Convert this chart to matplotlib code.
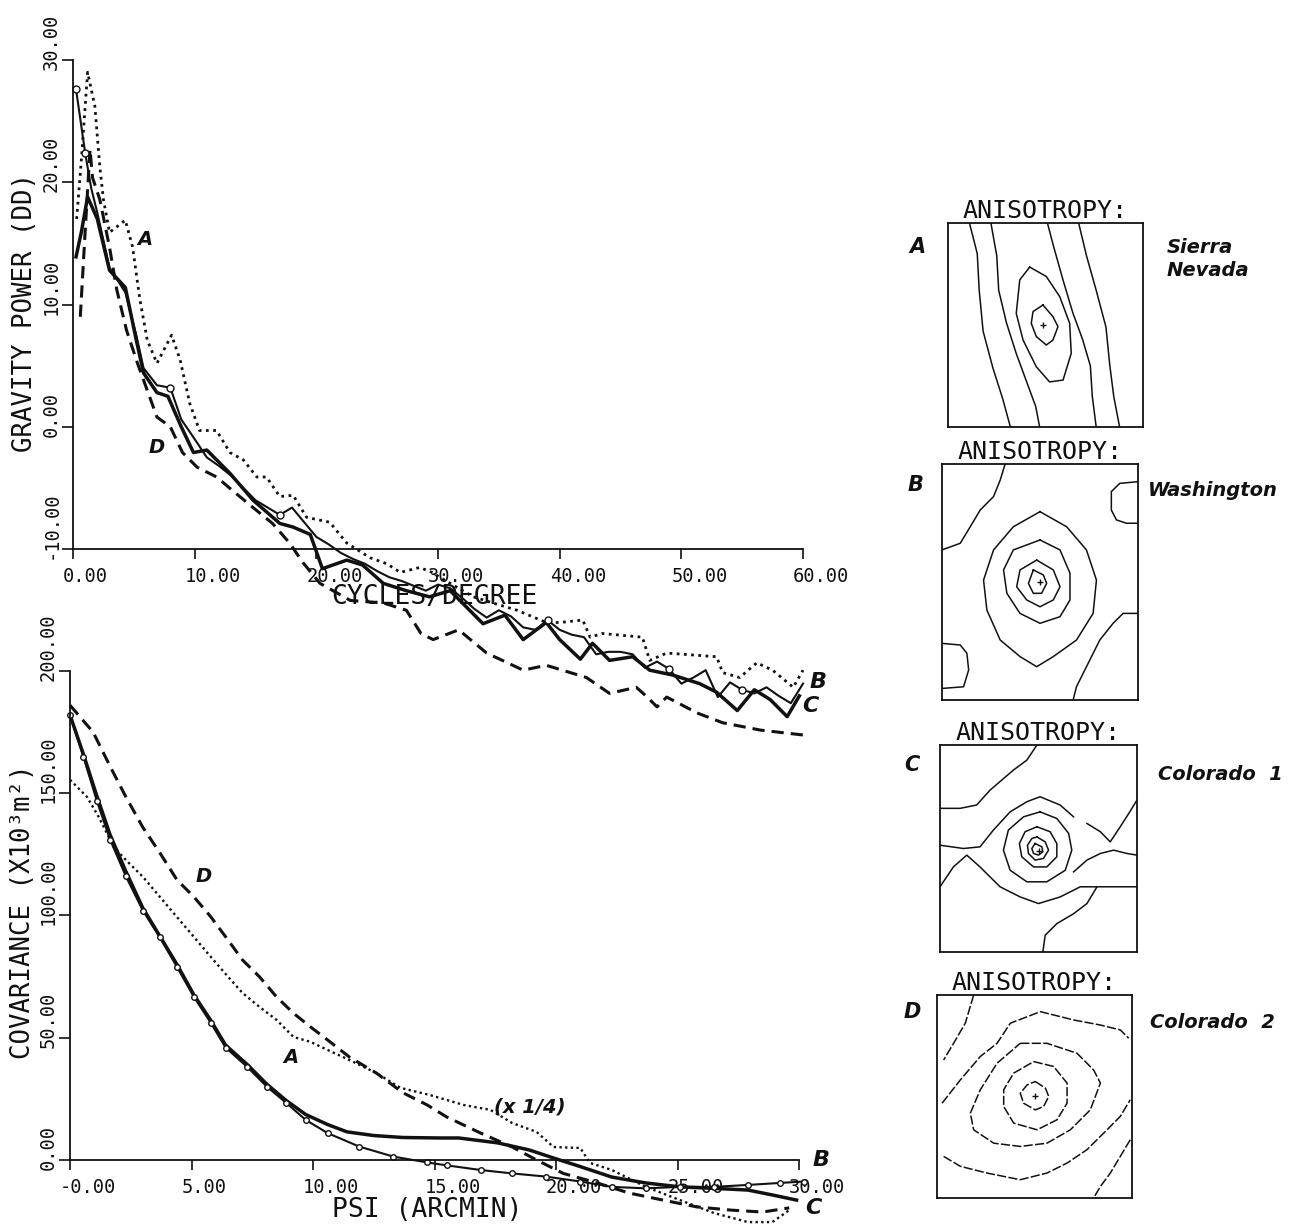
import matplotlib
matplotlib.use('Agg')
import matplotlib.pyplot as plt
from matplotlib.transforms import ScaledTranslation
import numpy as np

# ---------------- data: gravity power spectra (top) ----------------
A_top_x = [0.3, 0.7, 1.2, 1.8, 2.2, 2.5, 3.0, 4.3, 4.9, 5.5, 6.1, 6.9, 8.1, 8.8, 9.6, 10.4, 11.8,
           12.9, 14.0, 15.1, 15.9, 17.0, 18.1, 19.2, 21.1, 22.5, 24.4, 25.8, 26.9, 28.5, 29.5, 31.0,
           32.9, 34.5, 36.5, 38.9, 40.0, 41.9, 42.5, 43.5, 46.8, 47.4, 48.8, 52.9, 53.4, 54.8, 56.2,
           57.5, 59.2, 60.0]
A_top_y = [17.0, 22.0, 29.0, 26.2, 21.3, 18.6, 15.9, 16.9, 14.7, 10.4, 7.1, 5.2, 7.5, 5.5, 1.9, -0.3,
           -0.3, -2.1, -2.7, -4.1, -4.1, -5.7, -5.6, -7.4, -7.8, -9.5, -10.7, -11.2, -11.9, -11.5,
           -11.9, -12.8, -13.9, -14.4, -15.0, -16.0, -16.0, -15.8, -17.2, -16.9, -17.2, -19.1, -18.5,
           -18.8, -20.1, -20.5, -19.3, -19.9, -21.3, -19.9]

B_top_x = [0.25, 1.0, 1.5, 2.0, 3.0, 4.3, 5.2, 5.8, 6.9, 8.0, 8.9, 10.0, 11.0, 12.0, 13.0, 14.0,
           15.0, 16.0, 17.0, 18.0, 19.0, 20.0, 21.0, 22.0, 23.0, 24.0, 25.0, 26.0, 27.0, 28.0, 29.0,
           30.0, 31.0, 32.0, 33.0, 34.0, 35.0, 36.0, 37.0, 38.0, 39.0, 40.0, 41.0, 42.0, 43.0, 44.0,
           45.0, 46.0, 47.0, 48.0, 49.0, 50.0, 51.0, 52.0, 53.0, 54.0, 55.0, 56.0, 57.0, 58.0, 59.0,
           60.0]
B_top_y = [27.6, 22.4, 19.5, 17.5, 13.0, 11.0, 7.5, 4.8, 3.4, 3.2, 0.6, -1.0, -2.5, -3.2, -4.0, -5.0,
           -6.0, -6.6, -7.2, -6.6, -7.8, -9.0, -9.6, -10.3, -10.8, -11.2, -11.8, -12.3, -12.6, -13.0,
           -13.4, -12.9, -13.2, -14.0, -14.9, -15.6, -15.0, -15.5, -16.4, -16.6, -15.8, -16.6, -17.0,
           -17.2, -18.6, -18.4, -18.4, -18.6, -19.7, -19.2, -19.8, -21.0, -20.5, -19.9, -22.1, -20.9,
           -21.5, -21.8, -21.3, -22.0, -22.6, -21.0]

C_top_x = [0.25, 0.7, 1.2, 2.0, 3.0, 4.3, 5.2, 5.8, 6.9, 7.8, 8.9, 9.9, 11.0, 12.9, 14.8, 17.0, 18.1,
           19.5, 20.5, 22.5, 23.8, 25.5, 27.4, 29.3, 31.0, 33.7, 35.5, 37.0, 38.9, 40.0, 41.7, 42.7,
           44.1, 46.0, 47.4, 49.3, 51.5, 52.9, 54.6, 56.0, 57.3, 58.7, 59.7]
C_top_y = [13.9, 16.0, 18.8, 17.0, 12.8, 11.4, 7.1, 4.4, 2.8, 2.5, 0.0, -2.1, -1.9, -3.8, -6.0, -7.9,
           -8.2, -8.8, -11.6, -10.9, -11.3, -12.8, -13.4, -13.9, -13.4, -16.1, -15.4, -17.4, -16.0,
           -17.4, -19.0, -17.7, -19.1, -18.8, -19.9, -20.3, -21.0, -21.7, -23.2, -21.5, -22.3, -23.7,
           -22.0]

D_top_x = [0.6, 1.0, 1.4, 1.6, 2.2, 3.0, 3.6, 4.4, 5.3, 6.1, 6.9, 8.0, 9.0, 10.2, 11.8, 13.1, 14.8,
           16.4, 17.8, 18.9, 20.3, 22.8, 25.5, 27.4, 28.6, 29.6, 31.7, 34.0, 37.0, 38.9, 42.2, 44.1,
           46.3, 47.2, 48.0, 48.8, 51.3, 53.4, 56.5, 60.0]
D_top_y = [9.0, 16.0, 22.7, 20.4, 18.6, 14.7, 11.2, 7.9, 5.2, 3.0, 0.8, 0.0, -2.1, -3.3, -4.1, -5.2,
           -6.6, -7.9, -9.5, -11.1, -12.8, -14.2, -14.4, -15.0, -16.9, -17.4, -16.6, -18.5, -19.9,
           -19.5, -20.5, -21.8, -21.3, -22.1, -22.9, -22.1, -23.4, -24.2, -24.8, -25.2]

# ---------------- data: covariance functions (bottom) ----------------
A_low_x = [0.0, 0.7, 1.2, 1.8, 2.3, 3.0, 3.7, 4.4, 5.1, 5.8, 6.5, 7.1, 7.8, 8.5, 9.2, 9.9, 10.6,
           11.5, 12.6, 13.6, 14.8, 16.2, 17.3, 18.2, 19.2, 19.9, 21.0, 21.4, 22.3, 23.7, 25.1, 26.5,
           27.9, 28.9, 29.6]
A_low_y = [155.5, 148.5, 140.0, 128.0, 122.7, 115.8, 107.6, 99.4, 91.2, 83.0, 75.0, 68.3, 62.6,
           57.3, 50.3, 48.3, 45.0, 40.9, 35.6, 29.5, 26.6, 22.5, 20.5, 15.1, 11.5, 5.3, 4.9, -1.2,
           -4.1, -11.0, -16.4, -21.7, -25.4, -25.4, -20.5]

B_low_x = [0.0, 0.55, 1.1, 1.65, 2.3, 3.0, 3.7, 4.4, 5.1, 5.8, 6.4, 7.3, 8.1, 8.9, 9.7, 10.6, 11.9,
           13.3, 14.7, 15.5, 16.9, 18.2, 19.6, 21.0, 22.3, 23.7, 25.1, 26.5, 27.9, 29.2, 30.2]
B_low_y = [182.0, 165.0, 147.0, 131.0, 116.0, 102.0, 91.0, 79.0, 66.7, 56.0, 46.0, 38.0, 30.0, 23.3,
           16.4, 11.0, 5.5, 1.4, -1.0, -2.2, -4.1, -5.5, -6.8, -8.8, -11.0, -11.6, -11.0, -11.0,
           -10.2, -9.4, -8.8]

C_low_x = [0.0, 0.55, 1.1, 1.65, 2.3, 3.0, 3.7, 4.4, 5.1, 5.8, 6.4, 7.3, 8.1, 8.9, 9.7, 10.6, 11.4,
           12.5, 13.7, 15.2, 16.0, 17.6, 18.9, 19.9, 21.0, 22.3, 23.7, 25.1, 26.5, 27.9, 28.9, 29.9]
C_low_y = [182.0, 166.0, 149.0, 133.0, 118.0, 103.0, 91.5, 80.0, 67.5, 57.0, 47.0, 39.0, 31.0, 24.3,
           18.6, 14.5, 11.5, 10.0, 9.2, 9.0, 9.0, 7.0, 4.1, 0.8, -2.7, -7.0, -9.4, -11.0, -11.6,
           -12.3, -14.3, -16.4]

D_low_x = [0.0, 0.95, 1.65, 2.3, 3.0, 3.7, 4.4, 5.1, 5.8, 6.5, 7.1, 7.8, 8.5, 9.2, 9.9, 10.6, 11.5,
           12.6, 13.7, 14.7, 15.5, 16.9, 18.2, 19.2, 20.3, 21.7, 23.0, 24.4, 25.8, 27.2, 28.5, 29.6]
D_low_y = [186.0, 175.0, 161.0, 148.5, 136.0, 125.6, 114.6, 107.6, 99.4, 90.0, 81.8, 74.9, 66.7,
           60.0, 54.4, 49.1, 42.1, 35.6, 27.5, 22.5, 17.6, 11.0, 5.3, 0.0, -5.5, -9.4, -13.5, -16.4,
           -19.2, -20.5, -21.3, -19.6]

# tick values / labels
top_xticks = [0, 10, 20, 30, 40, 50, 60]
top_xticklabels = ['0.00', '10.00', '20.00', '30.00', '40.00', '50.00', '60.00']
top_yticks = [-10, 0, 10, 20, 30]
top_yticklabels = ['-10.00', '0.00', '10.00', '20.00', '30.00']
low_xticks = [0, 5, 10, 15, 20, 25, 30]
low_xticklabels = ['-0.00', '5.00', '10.00', '15.00', '20.00', '25.00', '30.00']
low_yticks = [0, 50, 100, 150, 200]
low_yticklabels = ['0.00', '50.00', '100.00', '150.00', '200.00']

# ---------------- data: anisotropy contour maps (unit box coords) ----------------
aniso_A = [
    [(0.11, 1.0), (0.15, 0.85), (0.16, 0.67), (0.18, 0.47), (0.23, 0.29), (0.28, 0.14), (0.32, 0.0)],
    [(0.22, 1.0), (0.25, 0.84), (0.26, 0.67), (0.30, 0.51), (0.35, 0.36), (0.40, 0.23), (0.45, 0.10), (0.47, 0.0)],
    [(0.51, 1.0), (0.54, 0.89), (0.59, 0.72), (0.64, 0.56), (0.69, 0.43), (0.73, 0.30), (0.74, 0.15), (0.76, 0.0)],
    [(0.67, 1.0), (0.71, 0.84), (0.76, 0.67), (0.81, 0.49), (0.83, 0.30), (0.85, 0.15), (0.88, 0.0)],
    [(0.419, 0.784), (0.504, 0.738), (0.573, 0.639), (0.624, 0.508), (0.632, 0.361), (0.590, 0.230),
     (0.521, 0.221), (0.453, 0.295), (0.385, 0.426), (0.350, 0.557), (0.368, 0.721), (0.419, 0.784)],
    [(0.487, 0.598), (0.538, 0.541), (0.564, 0.492), (0.538, 0.426), (0.504, 0.402), (0.453, 0.443),
     (0.427, 0.508), (0.436, 0.566), (0.487, 0.598)],
]
aniso_B = [
    [(0.5, 0.798), (0.636, 0.734), (0.737, 0.636), (0.788, 0.508), (0.771, 0.367), (0.686, 0.254),
     (0.568, 0.184), (0.483, 0.141), (0.398, 0.184), (0.297, 0.254), (0.229, 0.381), (0.212, 0.508),
     (0.263, 0.636), (0.364, 0.734), (0.5, 0.798)],
    [(0.5, 0.678), (0.602, 0.636), (0.653, 0.537), (0.653, 0.424), (0.602, 0.353), (0.5, 0.325),
     (0.398, 0.367), (0.331, 0.452), (0.314, 0.551), (0.364, 0.636), (0.5, 0.678)],
    [(0.483, 0.593), (0.568, 0.551), (0.602, 0.480), (0.568, 0.424), (0.5, 0.395), (0.432, 0.424),
     (0.381, 0.480), (0.398, 0.551), (0.483, 0.593)],
    [(0.466, 0.551), (0.517, 0.530), (0.534, 0.494), (0.508, 0.452), (0.466, 0.452), (0.441, 0.494),
     (0.466, 0.551)],
    [(0.0, 0.636), (0.093, 0.664), (0.144, 0.734), (0.195, 0.805), (0.263, 0.862), (0.297, 0.932), (0.322, 1.0)],
    [(1.0, 0.925), (0.907, 0.918), (0.864, 0.883), (0.864, 0.805), (0.890, 0.763), (0.941, 0.749), (1.0, 0.749)],
    [(0.0, 0.240), (0.093, 0.233), (0.127, 0.198), (0.136, 0.127), (0.110, 0.056), (0.0, 0.049)],
    [(1.0, 0.367), (0.924, 0.367), (0.873, 0.325), (0.805, 0.254), (0.737, 0.141), (0.686, 0.056), (0.669, 0.0)],
]
aniso_C = [
    [(0.0, 0.694), (0.102, 0.694), (0.186, 0.710), (0.254, 0.782), (0.373, 0.879), (0.441, 0.927), (0.492, 1.0)],
    [(0.746, 0.621), (0.814, 0.581), (0.864, 0.532), (0.915, 0.605), (0.958, 0.669), (1.0, 0.734)],
    [(0.678, 0.387), (0.746, 0.444), (0.814, 0.476), (0.881, 0.492), (0.949, 0.476), (1.0, 0.468)],
    [(0.0, 0.516), (0.119, 0.500), (0.203, 0.508), (0.271, 0.589), (0.356, 0.677), (0.441, 0.726),
     (0.508, 0.750), (0.610, 0.710), (0.678, 0.653)],
    [(0.0, 0.315), (0.068, 0.411), (0.136, 0.468), (0.203, 0.411), (0.305, 0.315), (0.407, 0.266),
     (0.500, 0.234), (0.610, 0.266), (0.712, 0.315), (0.797, 0.315), (0.881, 0.315), (1.0, 0.315)],
    [(0.522, 0.0), (0.534, 0.081), (0.593, 0.137), (0.678, 0.185), (0.746, 0.234), (0.797, 0.315)],
    [(0.508, 0.677), (0.593, 0.645), (0.653, 0.573), (0.669, 0.492), (0.636, 0.395), (0.542, 0.339),
     (0.441, 0.339), (0.356, 0.395), (0.322, 0.492), (0.347, 0.589), (0.424, 0.653), (0.508, 0.677)],
    [(0.492, 0.605), (0.559, 0.581), (0.593, 0.524), (0.593, 0.460), (0.542, 0.411), (0.475, 0.411),
     (0.415, 0.460), (0.403, 0.524), (0.432, 0.581), (0.492, 0.605)],
    [(0.492, 0.556), (0.534, 0.532), (0.551, 0.492), (0.525, 0.452), (0.483, 0.444), (0.449, 0.476),
     (0.444, 0.516), (0.466, 0.548), (0.492, 0.556)],
    [(0.483, 0.524), (0.517, 0.508), (0.522, 0.484), (0.500, 0.468), (0.475, 0.476), (0.466, 0.500),
     (0.483, 0.524)],
]
aniso_D = [
    [(0.026, 0.467), (0.120, 0.582), (0.222, 0.697), (0.308, 0.762), (0.376, 0.861), (0.530, 0.918),
     (0.701, 0.877), (0.838, 0.852), (0.940, 0.828), (0.983, 0.787)],
    [(0.188, 1.0), (0.145, 0.861), (0.085, 0.762), (0.034, 0.680)],
    [(0.427, 0.762), (0.564, 0.762), (0.718, 0.713), (0.803, 0.631), (0.838, 0.566), (0.786, 0.434),
     (0.684, 0.336), (0.564, 0.270), (0.427, 0.254), (0.291, 0.270), (0.188, 0.336), (0.171, 0.418),
     (0.222, 0.533), (0.308, 0.664), (0.427, 0.762)],
    [(0.496, 0.672), (0.598, 0.648), (0.667, 0.566), (0.667, 0.467), (0.615, 0.385), (0.513, 0.336),
     (0.393, 0.369), (0.342, 0.451), (0.342, 0.533), (0.393, 0.615), (0.496, 0.672)],
    [(0.504, 0.574), (0.556, 0.541), (0.573, 0.500), (0.547, 0.451), (0.504, 0.434), (0.444, 0.467),
     (0.427, 0.516), (0.462, 0.557), (0.504, 0.574)],
    [(0.034, 0.205), (0.120, 0.156), (0.256, 0.123), (0.427, 0.090), (0.564, 0.123), (0.667, 0.172),
     (0.769, 0.238), (0.872, 0.336), (0.940, 0.402), (0.991, 0.484)],
    [(0.991, 0.287), (0.940, 0.205), (0.889, 0.123), (0.838, 0.057), (0.803, 0.0)],
]
aniso_letters = ['A', 'B', 'C', 'D']
aniso_regions = ['Sierra\nNevada', 'Washington', 'Colorado  1', 'Colorado  2']
aniso_centers = [(0.487, 0.50), (0.50, 0.50), (0.50, 0.49), (0.504, 0.503)]

# ---------------- figure ----------------
W, H = 1301, 1226
fig = plt.figure(figsize=(W / 100, H / 100), dpi=100)
MONO = 'DejaVu Sans Mono'
INK = '#111111'


def px_axes(x0, y0, x1, y1):
    return fig.add_axes([x0 / W, 1 - y1 / H, (x1 - x0) / W, (y1 - y0) / H])


def style_axis(ax, xt, xtl, yt, ytl, ybase, xlim, ylim, ytop):
    ax.set_facecolor('none')
    ax.set_xlim(*xlim)
    ax.set_ylim(*ylim)
    for s in ('top', 'right'):
        ax.spines[s].set_visible(False)
    ax.spines['bottom'].set_position(('data', ybase))
    ax.spines['bottom'].set_bounds(xlim[0], xlim[1])
    ax.spines['left'].set_bounds(ybase, ytop)
    for s in ('left', 'bottom'):
        ax.spines[s].set_linewidth(1.3)
        ax.spines[s].set_color(INK)
    ax.set_xticks(xt)
    ax.set_xticklabels(xtl)
    ax.set_yticks(yt)
    ax.set_yticklabels(ytl)
    ax.tick_params(axis='y', direction='out', length=8, width=1.2, pad=8, labelsize=13.5,
                   colors=INK)
    ax.tick_params(axis='x', direction='out', length=7, width=1.2, pad=6, labelsize=13.5,
                   colors=INK)
    for lab in ax.get_yticklabels():
        lab.set_family(MONO)
        lab.set_rotation(90)
        lab.set_rotation_mode('anchor')
        lab.set_ha('left')
        lab.set_va('center')
        lab.set_transform(lab.get_transform() + ScaledTranslation(0, -0.10, fig.dpi_scale_trans))
    for lab in ax.get_xticklabels():
        lab.set_family(MONO)
        lab.set_ha('left')
        lab.set_transform(lab.get_transform() + ScaledTranslation(-0.10, 0, fig.dpi_scale_trans))


dotted_top = dict(color=INK, lw=2.0, ls=(0, (1, 1.6)), dash_capstyle='butt', clip_on=False)
dashed = dict(color=INK, lw=2.2, ls=(0, (4, 2.3)), clip_on=False)
thin_solid = dict(color=INK, lw=1.5, clip_on=False)
thick_solid = dict(color=INK, lw=2.5, clip_on=False)
lbl = dict(fontsize=16, fontweight='bold', fontstyle='italic', color=INK, ha='center', va='center')

# ---- top panel ----
ax1 = px_axes(73, 60, 803, 757)
style_axis(ax1, top_xticks, top_xticklabels, top_yticks, top_yticklabels, -10, (0, 60), (-27, 30), 30)
ax1.plot(A_top_x, A_top_y, **dotted_top)
ax1.plot(D_top_x, D_top_y, **dashed)
ax1.plot(C_top_x, C_top_y, **thick_solid)
ax1.plot(B_top_x, B_top_y, marker='o', markersize=5, markerfacecolor='white',
         markeredgewidth=1.0, markevery=[0, 1, 9, 18, 40, 50, 56], **thin_solid)
ax1.set_ylabel('GRAVITY POWER (DD)', fontsize=18.5, family=MONO, color=INK)
ax1.yaxis.label.set_va('center')
ax1.yaxis.set_label_coords((25 - 73) / 730, (757 - 312) / 697)
ax1.set_xlabel('CYCLES/DEGREE', fontsize=19, family=MONO, color=INK)
ax1.xaxis.label.set_va('center')
ax1.xaxis.set_label_coords((434 - 73) / 730, (757 - 597) / 697)
ax1.text(5.9, 15.3, 'A', fontsize=14, fontweight='bold', fontstyle='italic', color=INK,
         ha='center', va='center')
ax1.text(6.9, -1.7, 'D', fontsize=14, fontweight='bold', fontstyle='italic', color=INK,
         ha='center', va='center')
ax1.text(61.2, -20.9, 'B', **lbl)
ax1.text(60.6, -22.8, 'C', **lbl)

# ---- bottom panel ----
ax2 = px_axes(70, 671, 799, 1226)
style_axis(ax2, low_xticks, low_xticklabels, low_yticks, low_yticklabels, 0, (0, 30), (-27, 200), 200)
ax2.plot(A_low_x, A_low_y, color=INK, lw=1.7, ls=(0, (1, 1.4)), dash_capstyle='butt', clip_on=False)
ax2.plot(D_low_x, D_low_y, **dashed)
ax2.plot(C_low_x, C_low_y, **thick_solid)
ax2.plot(B_low_x, B_low_y, marker='o', markersize=4, markerfacecolor='white',
         markeredgewidth=1.0, **thin_solid)
ax2.set_ylabel('COVARIANCE (X10³m²)', fontsize=18.5, family=MONO, color=INK)
ax2.yaxis.label.set_va('center')
ax2.yaxis.set_label_coords((23 - 70) / 729, (1226 - 912) / 555)
ax2.set_xlabel('PSI (ARCMIN)', fontsize=19, family=MONO, color=INK)
ax2.xaxis.label.set_va('center')
ax2.xaxis.set_label_coords((427 - 70) / 729, (1226 - 1210) / 555)
ax2.text(5.5, 116.0, 'D', fontsize=14, fontweight='bold', fontstyle='italic', color=INK,
         ha='center', va='center')
ax2.text(9.1, 42.0, 'A', fontsize=14, fontweight='bold', fontstyle='italic', color=INK,
         ha='center', va='center')
ax2.text(18.9, 21.7, '(x 1/4)', fontsize=14, fontweight='bold', fontstyle='italic', color=INK,
         ha='center', va='center')
ax2.text(30.9, 0.0, 'B', **lbl)
ax2.text(30.6, -19.5, 'C', **lbl)

# ---- anisotropy maps ----
boxes = [(948, 223, 1143, 427), (942, 464, 1138, 700), (940, 745, 1137, 952), (937, 995, 1132, 1198)]
letter_pos = [(917, 247), (915, 485), (912, 765), (912, 1012)]
region_pos = [(1167, 259), (1148, 491), (1158, 775), (1150, 1022)]
maps = [aniso_A, aniso_B, aniso_C, aniso_D]
styles = ['-', '-', '-', (0, (6, 1.5))]

for i, (box, lines) in enumerate(zip(boxes, maps)):
    axm = px_axes(*box)
    for pts in lines:
        arr = np.array(pts)
        axm.plot(arr[:, 0], arr[:, 1], color=INK, lw=1.1, ls=styles[i])
    cx, cy = aniso_centers[i]
    axm.plot([cx], [cy], marker='+', color=INK, markersize=5, markeredgewidth=1.0)
    axm.set_xlim(0, 1)
    axm.set_ylim(0, 1)
    axm.set_xticks([])
    axm.set_yticks([])
    for s in axm.spines.values():
        s.set_linewidth(1.3)
        s.set_color(INK)
    axm.set_title('ANISOTROPY:', fontsize=18, family=MONO, color=INK, pad=3)
    lx, ly = letter_pos[i]
    fig.text(lx / W, 1 - ly / H, aniso_letters[i], fontsize=15, fontweight='bold',
             fontstyle='italic', color=INK, ha='center', va='center')
    rx, ry = region_pos[i]
    fig.text(rx / W, 1 - ry / H, aniso_regions[i], fontsize=14, fontweight='bold',
             fontstyle='italic', color=INK, ha='left', va='center', linespacing=1.25)

fig.savefig('out.png', dpi=100, facecolor='white')
